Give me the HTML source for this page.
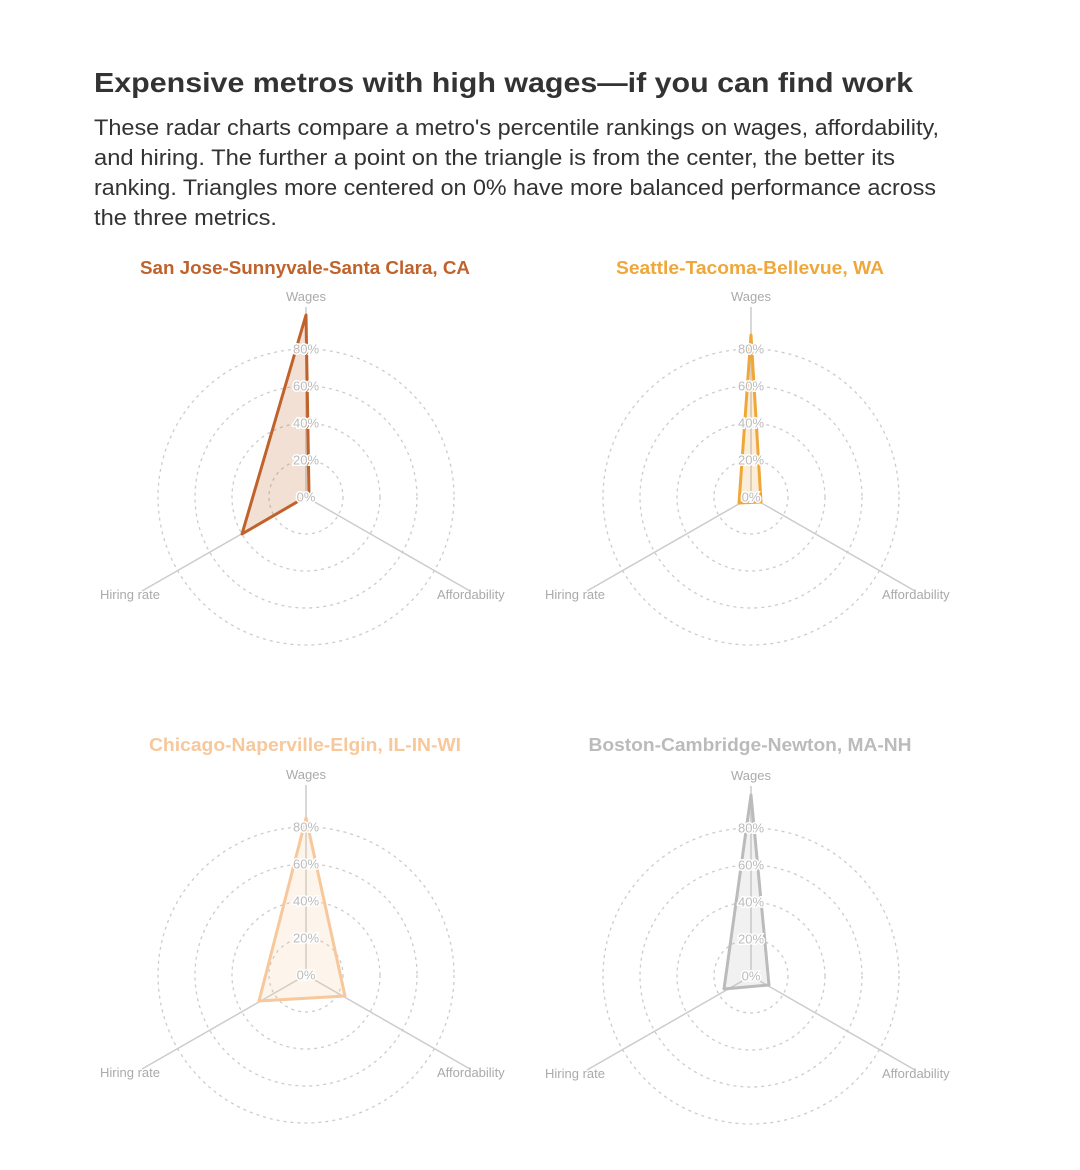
<!DOCTYPE html>
<html><head><meta charset="utf-8"><style>
html,body{margin:0;padding:0;background:#fff;}
svg{display:block;font-family:"Liberation Sans",sans-serif;}
.t{font-size:13px;fill:#bbb;text-anchor:middle;dominant-baseline:central;stroke:#fff;stroke-width:3px;paint-order:stroke;}
.ax{font-size:13px;fill:#aaa;}
.c{fill:none;stroke:#ccc;stroke-width:1.3;stroke-dasharray:3 4;}
.a{stroke:#ccc;stroke-width:1.5;}
</style></head><body>
<svg width="1080" height="1170" viewBox="0 0 1080 1170">
<rect width="1080" height="1170" fill="#fff"/>
<text x="94" y="92" font-size="28" font-weight="bold" fill="#333" textLength="819" lengthAdjust="spacingAndGlyphs">Expensive metros with high wages—if you can find work</text>
<g font-size="22" fill="#333">
<text x="94" y="135" textLength="845" lengthAdjust="spacingAndGlyphs">These radar charts compare a metro's percentile rankings on wages, affordability,</text>
<text x="94" y="165" textLength="801" lengthAdjust="spacingAndGlyphs">and hiring. The further a point on the triangle is from the center, the better its</text>
<text x="94" y="195" textLength="842" lengthAdjust="spacingAndGlyphs">ranking. Triangles more centered on 0% have more balanced performance across</text>
<text x="94" y="225" textLength="183" lengthAdjust="spacingAndGlyphs">the three metrics.</text>
</g>
<defs>
<g id="grid">
<circle class="c" r="37"/><circle class="c" r="74"/><circle class="c" r="111"/><circle class="c" r="148"/>
<line class="a" x1="0" y1="0" x2="0" y2="-190"/>
<line class="a" x1="0" y1="0" x2="-164" y2="94"/>
<line class="a" x1="0" y1="0" x2="164" y2="94"/>
<text class="ax" x="0" y="-196" text-anchor="middle">Wages</text>
<text class="ax" x="-206" y="102">Hiring rate</text>
<text class="ax" x="131" y="102">Affordability</text>
</g>
<g id="ticks">
<text class="t" x="0" y="0">0%</text><text class="t" x="0" y="-37">20%</text><text class="t" x="0" y="-74">40%</text><text class="t" x="0" y="-111">60%</text><text class="t" x="0" y="-148">80%</text>
</g>
</defs>

<text x="305" y="274" font-size="18" font-weight="bold" fill="#c0622b" text-anchor="middle" textLength="330" lengthAdjust="spacingAndGlyphs">San Jose-Sunnyvale-Santa Clara, CA</text>
<g transform="translate(306,497)">
<use href="#grid"/>
<polygon points="0,-182 -64,37 3,-2" fill="#c0622b" fill-opacity="0.2" stroke="#c0622b" stroke-width="3" stroke-linejoin="round"/>
<use href="#ticks"/>
</g>

<text x="750" y="274" font-size="18" font-weight="bold" fill="#f0a73a" text-anchor="middle" textLength="268" lengthAdjust="spacingAndGlyphs">Seattle-Tacoma-Bellevue, WA</text>
<g transform="translate(751,497)">
<use href="#grid"/>
<polygon points="0,-162 -12,6 10,5" fill="#f0a73a" fill-opacity="0.2" stroke="#f0a73a" stroke-width="3" stroke-linejoin="round"/>
<use href="#ticks"/>
</g>

<text x="305" y="751" font-size="18" font-weight="bold" fill="#f7c89c" text-anchor="middle" textLength="312" lengthAdjust="spacingAndGlyphs">Chicago-Naperville-Elgin, IL-IN-WI</text>
<g transform="translate(306,975)">
<use href="#grid"/>
<polygon points="0,-157 -47,26 39,21" fill="#f7c89c" fill-opacity="0.2" stroke="#f7c89c" stroke-width="3" stroke-linejoin="round"/>
<use href="#ticks"/>
</g>

<text x="750" y="751" font-size="18" font-weight="bold" fill="#bbb" text-anchor="middle" textLength="323" lengthAdjust="spacingAndGlyphs">Boston-Cambridge-Newton, MA-NH</text>
<g transform="translate(751,976)">
<use href="#grid"/>
<polygon points="0,-181 -27,13 18,9" fill="#bbb" fill-opacity="0.2" stroke="#bbb" stroke-width="3" stroke-linejoin="round"/>
<use href="#ticks"/>
</g>
</svg>
</body></html>
